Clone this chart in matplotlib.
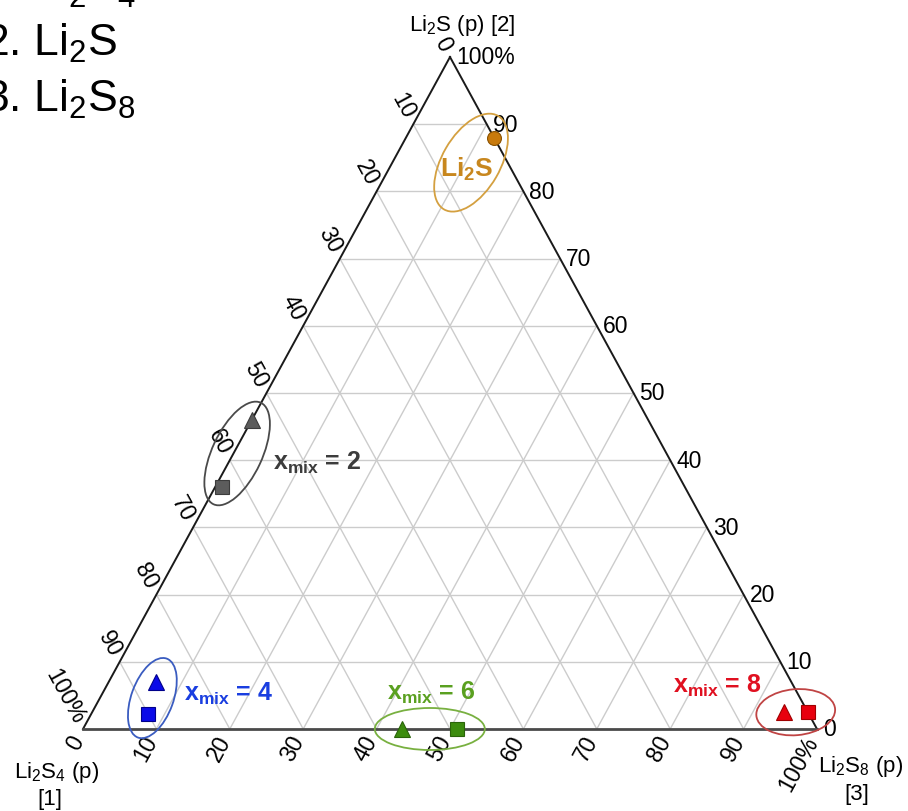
import numpy as np
import matplotlib
matplotlib.use('Agg')
import matplotlib.pyplot as plt
import matplotlib.transforms as mtransforms
from matplotlib.patches import Ellipse

plt.rcParams['font.family'] = 'Liberation Sans'
plt.rcParams['mathtext.fontset'] = 'custom'
plt.rcParams['mathtext.rm'] = 'Liberation Sans'
plt.rcParams['mathtext.it'] = 'Liberation Sans:italic'
plt.rcParams['mathtext.bf'] = 'Liberation Sans:bold'
plt.rcParams['mathtext.default'] = 'rm'

# compositions in % : Li2S4 [1], Li2S [2], Li2S8 [3]
groups = ['2', '4', '6', '8']
tri_li2s4 = [54, 86.5, 56.5, 3.3]
tri_li2s = [46, 7, 0, 2.5]
tri_li2s8 = [0, 6.5, 43.5, 94.2]
sq_li2s4 = [63, 90, 49, 0]
sq_li2s = [36, 2.2, 0, 2.5]
sq_li2s8 = [1, 7.8, 51, 97.5]
li2s_point = [0, 88, 12]

tick_values = list(range(0, 101, 10))
tick_labels = [str(v) for v in tick_values[:-1]] + ['100%']

group_colors = ['#5c5c5c', '#0a0ae8', '#3c8c0e', '#e8000e']
group_edges = ['#3c3c3c', '#00008a', '#2a640a', '#a00000']
ellipse_colors = ['#4a4a4a', '#3a5cc0', '#78b040', '#c04444']
text_colors = ['#3c3c3c', '#1a3ee0', '#5aa020', '#e01020']
# ellipse width, height (px), angle
ell_size = [(112, 50, 65), (84, 42, 70), (110, 42, 0), (79, 46, 5)]
label_off = [(80, -8), (76, 5), (1, 37), (-78, 27)]


def tern(a, b, c):
    b = np.asarray(b, dtype=float)
    c = np.asarray(c, dtype=float)
    return c + b / 2.0, b


fig = plt.figure(figsize=(9.08, 8.12), dpi=100)
ax = fig.add_axes([83 / 908, (812 - 730) / 812, 734 / 908, 672 / 812])
ax.set_xlim(0, 100)
ax.set_ylim(0, 100)
ax.axis('off')

# grid
for k in tick_values[1:-1]:
    ax.plot([k / 2, 100 - k / 2], [k, k], color='#cccccc', lw=1, zorder=1)
    ax.plot([k, k + (100 - k) / 2], [0, 100 - k], color='#cccccc', lw=1, zorder=1)
    ax.plot([100 - k, (100 - k) / 2], [0, 100 - k], color='#cccccc', lw=1, zorder=1)

# edges
ax.plot([0, 50], [0, 100], color='#1a1a1a', lw=1.4, zorder=2, clip_on=False)
ax.plot([50, 100], [100, 0], color='#1a1a1a', lw=1.4, zorder=2, clip_on=False)
ax.plot([0, 100], [0, 0], color='#4a4a4a', lw=2, zorder=2, clip_on=False)

# edge direction in pixels
p0 = ax.transData.transform((0, 0))
p1 = ax.transData.transform((50, 100))
dx, dy = p1 - p0
ang = np.degrees(np.arctan2(dy, dx))
ux, uy = dx / np.hypot(dx, dy), dy / np.hypot(dx, dy)
gap = 9

for v, lab in zip(tick_values, tick_labels):
    # right side: Li2S
    ax.annotate(lab, xy=(100 - v / 2, v), xytext=(6, 0), textcoords='offset pixels',
                ha='left', va='center', fontsize=16.5, annotation_clip=False)
    # left side: Li2S4
    ax.annotate(lab, xy=((100 - v) / 2, 100 - v), xytext=(-ux * gap, uy * gap),
                textcoords='offset pixels', ha='right', va='center', rotation=-ang,
                rotation_mode='anchor', fontsize=16.5, annotation_clip=False)
    # bottom: Li2S8
    ax.annotate(lab, xy=(v, 0), xytext=(-ux * gap, -uy * gap),
                textcoords='offset pixels', ha='right', va='center', rotation=ang,
                rotation_mode='anchor', fontsize=16.5, annotation_clip=False)


def px_ellipse(xy, off, w, h, angle, color):
    tr = fig.dpi_scale_trans + mtransforms.ScaledTranslation(xy[0], xy[1], ax.transData)
    e = Ellipse((off[0] / 100, off[1] / 100), w / 100, h / 100, angle=angle,
                transform=tr, fill=False, edgecolor=color, lw=1.3, zorder=3, clip_on=False)
    ax.add_patch(e)


tx, ty = tern(tri_li2s4, tri_li2s, tri_li2s8)
sx, sy = tern(sq_li2s4, sq_li2s, sq_li2s8)
for i, g in enumerate(groups):
    ax.plot(tx[i], ty[i], '^', ms=11, color=group_colors[i], mec=group_edges[i],
            mew=0.8, zorder=5, clip_on=False)
    ax.plot(sx[i], sy[i], 's', ms=9.5, color=group_colors[i], mec=group_edges[i],
            mew=0.8, zorder=5, clip_on=False)
    cx, cy = (tx[i] + sx[i]) / 2, (ty[i] + sy[i]) / 2
    w, h, a = ell_size[i]
    px_ellipse((cx, cy), (0, 0), w, h, a, ellipse_colors[i])
    ax.annotate('x$_{\\mathbf{mix}}$ = ' + g, xy=(cx, cy), xytext=label_off[i],
                textcoords='offset pixels', ha='center', va='center', fontsize=18,
                fontweight='bold', color=text_colors[i], annotation_clip=False, zorder=6)

lx, ly = tern(*li2s_point)
ax.plot(lx, ly, 'o', ms=10, color='#c87a0c', mec='#8a5200', mew=0.8, zorder=5)
px_ellipse((lx, ly), (-23, -25), 108, 58, 60, '#d4a040')
ax.annotate('$\\mathbf{Li_2S}$', xy=(lx, ly), xytext=(-27, -31), textcoords='offset pixels',
            ha='center', va='center', fontsize=19, color='#c8871e', zorder=6)

# corner labels
fig.text(462 / 908, 1 - 31 / 812, 'Li$_2$S (p) [2]', ha='center', va='baseline', fontsize=16)
fig.text(57 / 908, 1 - 778 / 812, 'Li$_2$S$_4$ (p)', ha='center', va='baseline', fontsize=16)
fig.text(50 / 908, 1 - 805 / 812, '[1]', ha='center', va='baseline', fontsize=16)
fig.text(861 / 908, 1 - 772 / 812, 'Li$_2$S$_8$ (p)', ha='center', va='baseline', fontsize=16)
fig.text(857 / 908, 1 - 800 / 812, '[3]', ha='center', va='baseline', fontsize=16)

# list of species (cut off at the top-left)
fig.text(-16 / 908, 1 - 1 / 812, '1. Li$_2$S$_4$', ha='left', va='baseline', fontsize=32)
fig.text(-16 / 908, 1 - 56 / 812, '2. Li$_2$S', ha='left', va='baseline', fontsize=32)
fig.text(-16 / 908, 1 - 112 / 812, '3. Li$_2$S$_8$', ha='left', va='baseline', fontsize=32)

fig.savefig('out.png', dpi=100)
